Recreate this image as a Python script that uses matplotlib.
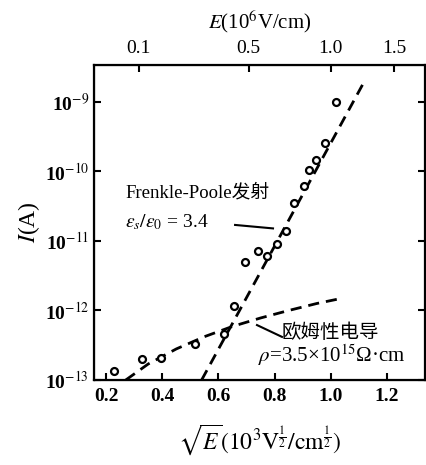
import numpy as np
import matplotlib.pyplot as plt

plt.rcParams.update({
    'font.family': ['Liberation Serif', 'Noto Sans CJK SC'],
    'mathtext.fontset': 'stix',
})

# measured points: sqrt(E) (10^3 V^1/2 cm^-1/2) vs current (A)
sqrt_e = [0.228, 0.328, 0.396, 0.517, 0.620, 0.656, 0.695, 0.741, 0.773,
          0.808, 0.841, 0.869, 0.905, 0.922, 0.947, 0.979, 1.018]
current = [1.35e-13, 2.0e-13, 2.1e-13, 3.3e-13, 4.6e-13, 1.17e-12, 4.9e-12,
           7.1e-12, 6.0e-12, 9.1e-12, 1.4e-11, 3.5e-11, 6.2e-11, 1.05e-10,
           1.45e-10, 2.6e-10, 1.0e-9]

# Frenkel-Poole fit line
fp_x = [0.54, 1.12]
fp_i = [1.0e-13, 2.0e-9]

# ohmic conduction curve
ohm_x = [0.27, 0.35, 0.45, 0.55, 0.65, 0.75, 0.85, 0.95, 1.04]
ohm_i = [1.0e-13, 1.7e-13, 2.8e-13, 4.2e-13, 5.9e-13, 7.8e-13, 1.0e-12,
         1.26e-12, 1.5e-12]

x_ticks = [0.2, 0.4, 0.6, 0.8, 1.0, 1.2]
y_ticks = [1e-13, 1e-12, 1e-11, 1e-10, 1e-9]
y_labels = ['10$^{-13}$', '10$^{-12}$', '10$^{-11}$', '10$^{-10}$', '10$^{-9}$']
top_e = [0.1, 0.5, 1.0, 1.5]
top_labels = ['0.1', '0.5', '1.0', '1.5']

fig = plt.figure(figsize=(4.26, 4.65), dpi=100)
ax = fig.add_axes([0.2207, 0.1828, 0.777, 0.6774])

dash = (0, (4, 2.5))
ax.plot(fp_x, fp_i, color='black', lw=2.0, linestyle=dash)
ax.plot(ohm_x, ohm_i, color='black', lw=2.0, linestyle=dash)
ax.plot(sqrt_e, current, 'o', mfc='white', mec='black', ms=5, mew=1.6,
        linestyle='none', zorder=3)

ax.set_yscale('log')
ax.set_xlim(0.157, 1.335)
ax.set_ylim(1e-13, 10**-8.47)
ax.set_xticks(x_ticks)
ax.set_xticklabels([f'{v:.1f}' for v in x_ticks], fontsize=14, fontweight='bold')
ax.set_yticks(y_ticks)
ax.set_yticklabels(y_labels, fontsize=14, fontweight='bold')
ax.minorticks_off()
ax.tick_params(direction='in', length=5, width=1.5, right=True)
ax.tick_params(axis='x', pad=6)

for s in ax.spines.values():
    s.set_linewidth(1.6)

top = ax.twiny()
top.set_xlim(ax.get_xlim())
top.set_xticks(np.sqrt(top_e))
top.set_xticklabels(top_labels, fontsize=14)
top.tick_params(direction='in', length=5, width=1.5, pad=6)
top.set_xlabel(r'$E$(10$^6$V/cm)', fontsize=15, labelpad=8)

ax.set_xlabel(r'$\sqrt{E}\left(10^3\mathrm{V}^{\frac{1}{2}}/\mathrm{cm}^{\frac{1}{2}}\right)$',
              fontsize=17, labelpad=12)
ax.set_ylabel(r'$I$(A)', fontsize=17, labelpad=2)

ax.text(0.268, 10**-10.30, 'Frenkle-Poole发射', fontsize=13.5, ha='left', va='center')
ax.text(0.268, 10**-10.73, r'$\epsilon_s/\epsilon_0$ = 3.4', fontsize=14,
        ha='left', va='center')
ax.plot([0.659, 0.794], [10**-10.77, 10**-10.82], color='black', lw=1.5)

ax.text(0.826, 10**-12.32, '欧姆性电导', fontsize=14, ha='left', va='center')
ax.text(0.741, 10**-12.64, r'$\rho$=3.5×10$^{15}$Ω·cm', fontsize=15,
        ha='left', va='center')
ax.plot([0.737, 0.826], [10**-12.21, 10**-12.38], color='black', lw=1.5)

fig.savefig('out.png', dpi=100)
